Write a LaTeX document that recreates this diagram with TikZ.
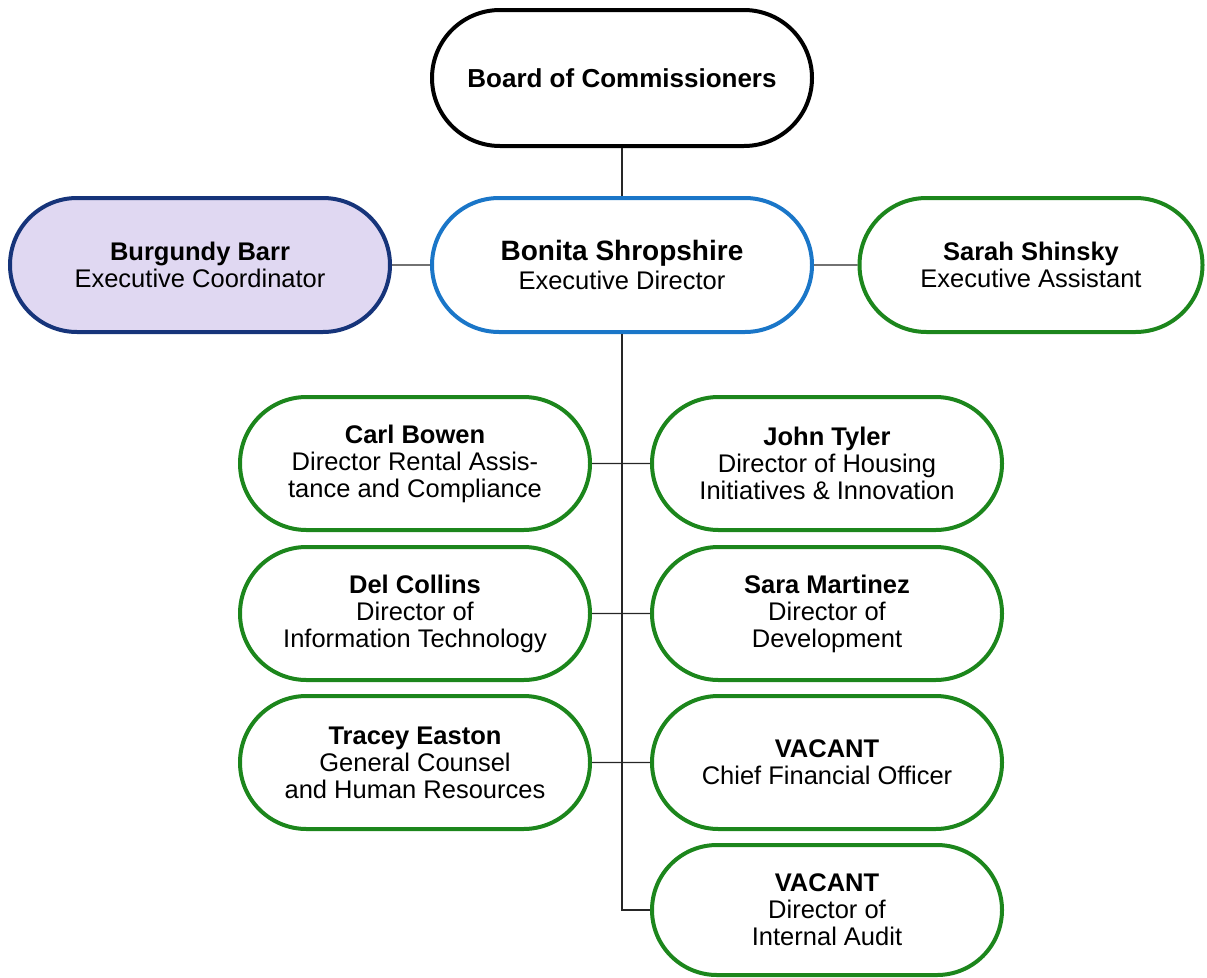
\documentclass[tikz,border=0pt]{standalone}
\usepackage{fontspec}
\usetikzlibrary{shapes.misc}
\setmainfont{Liberation Sans}
\definecolor{boxgreen}{RGB}{28,134,28}
\definecolor{boxblue}{RGB}{26,118,200}
\definecolor{boxnavy}{RGB}{22,52,122}
\definecolor{lavender}{RGB}{224,216,242}
\tikzset{
  orgbox/.style={draw, line width=4pt, rounded rectangle, align=center,
    inner sep=0pt, font=\fontsize{25.5}{27}\selectfont},
  greenbox/.style={orgbox, draw=boxgreen, minimum width=350pt, minimum height=133pt},
  link/.style={draw=black!85, line width=1.4pt}
}
\begin{document}
\begin{tikzpicture}[x=1pt,y=-1pt]
\useasboundingbox (0,0) rectangle (1207,977);
\node[orgbox, draw=black, minimum width=380pt, minimum height=136pt,
  font=\fontsize{26}{28}\selectfont\bfseries] (board) at (622,78) {Board of Commissioners};
\node[orgbox, draw=boxblue, minimum width=380pt, minimum height=134pt] (bonita) at (622,265)
  {{\fontsize{28}{28}\selectfont\bfseries Bonita Shropshire}\\[2pt]Executive Director};
\node[orgbox, draw=boxnavy, fill=lavender, minimum width=380pt, minimum height=134pt] (burgundy) at (200,265)
  {\textbf{Burgundy Barr}\\Executive Coordinator};
\node[orgbox, draw=boxgreen, minimum width=343pt, minimum height=134pt] (sarah) at (1031,265)
  {\textbf{Sarah Shinsky}\\Executive Assistant};
\node[greenbox] (carl) at (415,463.5) {\textbf{Carl Bowen}\\Director Rental Assis-\\tance and Compliance};
\node[greenbox] (john) at (827,463.5) {\textbf{John Tyler}\\Director of Housing\\Initiatives \& Innovation};
\node[greenbox] (del) at (415,613.5) {\textbf{Del Collins}\\Director of\\Information Technology};
\node[greenbox] (sara) at (827,613.5) {\textbf{Sara Martinez}\\Director of\\Development};
\node[greenbox] (tracey) at (415,762.5) {\textbf{Tracey Easton}\\General Counsel\\and Human Resources};
\node[greenbox] (cfo) at (827,762.5) {\textbf{VACANT}\\Chief Financial Officer};
\node[greenbox, minimum height=130pt] (audit) at (827,910) {\textbf{VACANT}\\Director of\\Internal Audit};
\path[link] (board) -- (bonita);
\path[link] (burgundy) -- (bonita);
\path[link] (bonita) -- (sarah);
\path[link] (bonita.south) |- (audit.west);
\path[link] (carl) -- (john);
\path[link] (del) -- (sara);
\path[link] (tracey) -- (cfo);
\end{tikzpicture}
\end{document}
